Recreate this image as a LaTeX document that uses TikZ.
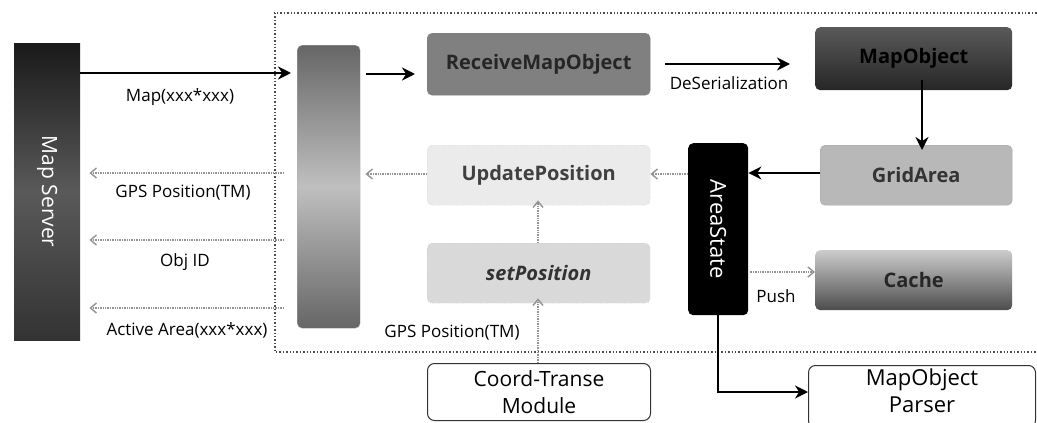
\documentclass[tikz,border=0pt]{standalone}
\usepackage{fontspec}
\setmainfont{Open Sans}
\usetikzlibrary{arrows.meta,shadings}
\begin{document}
\begin{tikzpicture}[x=1pt,y=-1pt,
  box/.style={rounded corners=5pt,inner sep=0pt,anchor=north west},
  thickarr/.style={line width=2.8pt,-{Stealth[length=13pt,width=13pt]}},
  dotarr/.style={draw=gray!85,line width=1.4pt,densely dotted,-{Straight Barb[length=6pt,width=10pt]}},
  lbl/.style={font=\fontsize{17}{19}\selectfont,inner sep=0pt},
  btxt/.style={font=\fontsize{20}{22}\selectfont\bfseries}]
\useasboundingbox (0,0) rectangle (1037,423);
\fill[white] (0,0) rectangle (1037,423);
% container
\draw[gray!60!black,line width=1.4pt,dotted] (1040,13) -- (275,13) -- (275,352) -- (1040,352);
% Map server
\node[box,rounded corners=0pt,minimum width=66pt,minimum height=297pt,top color=black!90,bottom color=black!80,middle color=black!65] (ms) at (14,43) {};
\node[rotate=-90,text=white,font=\fontsize{21}{23}\selectfont] at (ms.center) {Map Server};
% tall box
\node[box,minimum width=63pt,minimum height=283pt,top color=black!60,bottom color=black!60,middle color=black!25,draw=gray!60] (tall) at (297,45) {};
% ReceiveMapObject
\node[box,minimum width=223pt,minimum height=62pt,fill=black!50,draw=gray] (rmo) at (427,33) {};
\node[btxt,text=black!85] at (rmo.center) {ReceiveMapObject};
% MapObject
\node[box,minimum width=197pt,minimum height=63pt,top color=black!65,bottom color=black!85] (mo) at (815,27) {};
\node[btxt,text=black] at (mo.center) {MapObject};
% GridArea
\node[box,minimum width=192pt,minimum height=60pt,fill=black!28,draw=gray!70] (ga) at (820,145) {};
\node[btxt,text=black!80] at (ga.center) {GridArea};
% AreaState
\node[box,minimum width=60pt,minimum height=172pt,fill=black] (as) at (688,143) {};
\node[rotate=-90,text=white,font=\fontsize{22}{24}\selectfont] at (as.center) {AreaState};
% UpdatePosition
\node[box,minimum width=223pt,minimum height=60pt,fill=black!8,draw=gray!60,dotted] (up) at (427,145) {};
\node[btxt,text=black!75] at (up.center) {UpdatePosition};
% setPosition
\node[box,minimum width=223pt,minimum height=60pt,fill=black!15,draw=gray!60,dotted] (sp) at (427,243) {};
\node[text=black!80,font=\fontsize{20}{22}\selectfont\bfseries\itshape] at (sp.center) {setPosition};
% Cache
\node[box,minimum width=197pt,minimum height=60pt,top color=black!20,bottom color=black!70] (ca) at (815,250) {};
\node[btxt,text=black!85] at (ca.center) {Cache};
% Coord-Transe Module
\node[box,minimum width=223pt,minimum height=57pt,draw=black!80,line width=1pt,fill=white,rounded corners=7pt] (ct) at (427,363) {};
\node[align=center,font=\fontsize{21}{27}\selectfont] at (ct.center) {Coord-Transe\\Module};
% MapObject Parser
\node[box,minimum width=227pt,minimum height=62pt,draw=black!80,line width=1pt,fill=white,rounded corners=7pt] (mp) at (808,365) {};
\node[align=center,font=\fontsize{22}{27}\selectfont] at ([yshift=6pt]mp.center) {MapObject\\Parser};
% connectors Map server <-> tall
\draw[thickarr] (ms.east |- 0,73) -- ([xshift=-6pt]tall.west |- 0,73);
\node[lbl] (l1) at (180,97) {Map(xxx*xxx)};
\draw[dotarr] ([xshift=-13pt]tall.west |- 0,173) -- ([xshift=9pt]ms.east |- 0,173);
\node[lbl] (l2) at (183,193) {GPS Position(TM)};
\draw[dotarr] ([xshift=-13pt]tall.west |- 0,240) -- ([xshift=9pt]ms.east |- 0,240);
\node[lbl] (l3) at (185,262) {Obj ID};
\draw[dotarr] ([xshift=-13pt]tall.west |- 0,308) -- ([xshift=9pt]ms.east |- 0,308);
\node[lbl] (l4) at (187,330) {Active Area(xxx*xxx)};
% tall -> rmo
\draw[thickarr] ([xshift=6pt]tall.east |- 0,74) -- ([xshift=-12pt]rmo.west |- 0,74);
% rmo -> mo
\draw[thickarr,line width=2.4pt] ([xshift=15pt]rmo.east |- 0,64) -- ([xshift=-25pt]mo.west |- 0,64);
\node[lbl] (l5) at (729,83) {DeSerialization};
% mo -> ga
\draw[thickarr] ([yshift=10pt]mo.south -| 922,0) -- ([yshift=-5pt]ga.north -| 922,0);
% ga -> as
\draw[thickarr] (ga.west |- 0,173) -- (as.east |- 0,173);
% as -> up
\draw[dotarr] (as.west |- 0,174) -- (up.east |- 0,174);
% up -> tall
\draw[dotarr] (up.west |- 0,174) -- ([xshift=5pt]tall.east |- 0,174);
% sp -> up
\draw[dotarr] (sp.north -| 538,0) -- ([yshift=5pt]up.south -| 538,0);
% ct -> sp
\draw[dotarr] (ct.north -| 538,0) -- ([yshift=5pt]sp.south -| 538,0);
\node[lbl] (l6) at (452,333) {GPS Position(TM)};
% as -> cache
\draw[dotarr] ([xshift=2pt]as.east |- 0,272) -- (ca.west |- 0,272);
\node[lbl] (l7) at (776,296) {Push};
% as -> parser
\draw[line width=2.6pt,-{Stealth[length=13pt,width=13pt]}] (as.south -| 718,0) |- (mp.west |- 0,392);
\end{tikzpicture}
\end{document}
